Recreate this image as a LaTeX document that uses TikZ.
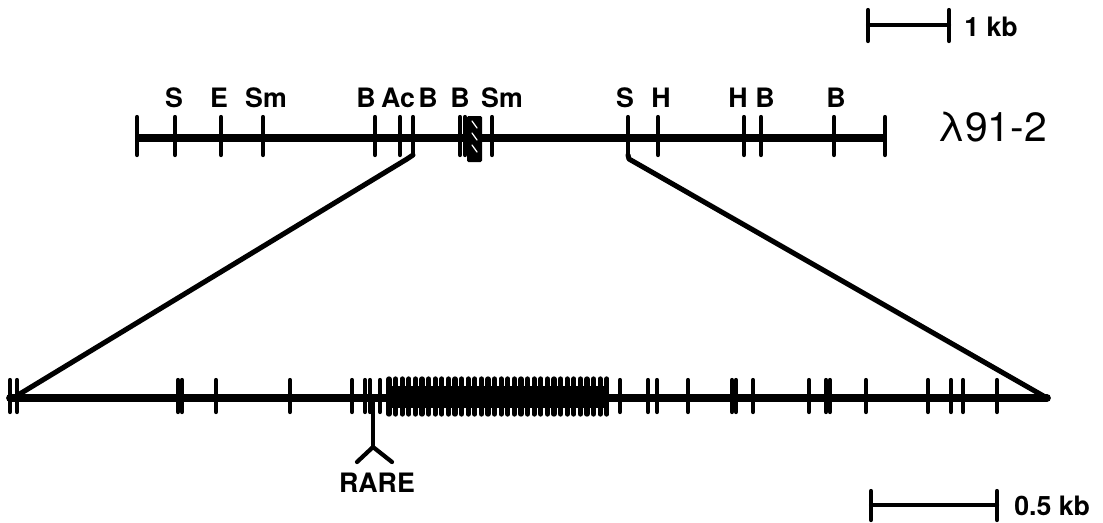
\documentclass[tikz,border=0pt]{standalone}
\usepackage{fontspec}
\setmainfont{TeX Gyre Heros}
\usetikzlibrary{calc}

\begin{document}
\begin{tikzpicture}[x=0.025cm,y=-0.025cm,line cap=round,
	cut/.style={line width=3pt},
	enzyme/.style={font=\fontsize{19}{22}\selectfont\bfseries,inner sep=0pt}]
\useasboundingbox (0,0) rectangle (1103,522);

% scale bars
\coordinate (bar1a) at (868,25);
\coordinate (bar1b) at (949,25);
\draw[cut] (bar1a) -- (bar1b);
\draw[cut] (868,10) -- (868,41);
\draw[cut] (949,10) -- (949,41);
\node[enzyme,anchor=west] (kb1) at (964,27) {1 kb};

\coordinate (bar2a) at (871,505);
\coordinate (bar2b) at (997,505);
\draw[cut] (bar2a) -- (bar2b);
\draw[cut] (871,491) -- (871,520);
\draw[cut] (997,491) -- (997,520);
\node[enzyme,anchor=west] (kb2) at (1014,506) {0.5 kb};

% lambda clone
\coordinate (Origin) at (137,138);
\coordinate (End) at (885,138);
\draw[line width=5pt,line cap=butt] (Origin) -- (End);
\foreach \x in {137,175,221,263,375,400,413,460,465,492,628,658,744,761,834,885}
	{
	\draw[cut] (\x,117) -- (\x,155);
	}
\foreach \x/\name [count=\i] in {174/S,219/E,266/Sm,366/B,398/Ac,428/B,460/B,502/Sm,625/S,661/H,738/H,765/B,836/B}
	{
	\node[enzyme] (site\i) at (\x,98) {\name};
	}
% probe fragment
\fill[rounded corners=1pt] (467,116) rectangle (482,162);
\foreach \y in {121,133,145}
	{
	\draw[white,line width=0.9pt] (472,\y) -- (477,\y+7);
	}
\node[font=\fontsize{29}{32}\selectfont,inner sep=0pt] (clone) at (992,127) {λ91-2};

% subclone
\coordinate (lowL) at (10,398);
\coordinate (lowR) at (1047,398);
\draw[line width=5.5pt] (lowL) -- (lowR);
\foreach \x in {10,17,178,182,216,290,352,365,370,380,620,648,657,688,732,736,753,809,826,830,866,928,951,963,997}
	{
	\draw[cut] (\x,380) -- (\x,412);
	}
\foreach \x in {389,395.6,...,608}
	{
	\draw[line width=3.8pt] (\x,379) -- (\x,414);
	}
\fill (386,386) rectangle (609,408);

% fan-out from the lambda map
\coordinate (cutL) at (413,155);
\coordinate (cutR) at (628,155);
\draw[line width=3.6pt,line join=round] (cutL) -- (407,159) -- (18,395);
\draw[line width=3.6pt,line join=round] (cutR) -- (629,159) -- (lowR);

% repeat element
\coordinate (stem) at (373,447);
\draw[cut,line join=round] (373,400) -- (stem);
\draw[cut,line join=round] (357,462) -- (stem) -- (392,462);
\node[enzyme] (rare) at (377,483) {RARE};
\end{tikzpicture}
\end{document}
